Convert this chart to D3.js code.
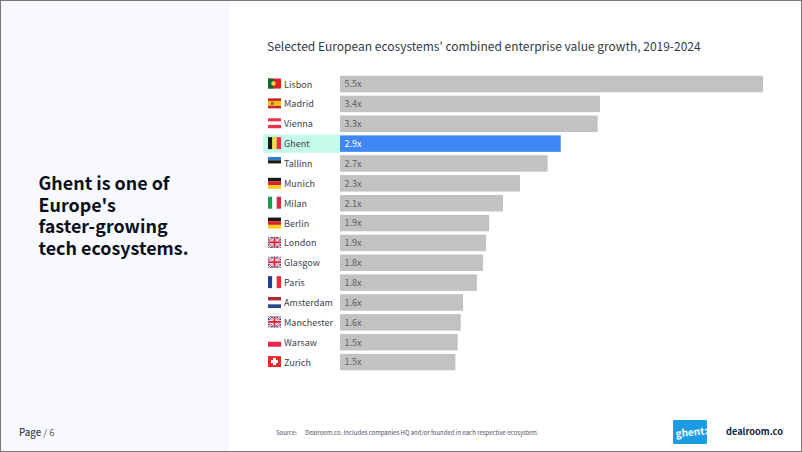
<!DOCTYPE html>
<html><head><meta charset="utf-8">
<script src="https://cdn.jsdelivr.net/npm/d3@7/dist/d3.min.js"></script>
<style>html,body{margin:0;padding:0;background:#fff}svg{display:block}text{font-family:"Noto Sans CJK JP","Noto Sans",sans-serif}</style>
</head><body><svg id="c" width="802" height="452"></svg>
<script>
const cities=["Lisbon","Madrid","Vienna","Ghent","Tallinn","Munich","Milan","Berlin","London","Glasgow","Paris","Amsterdam","Manchester","Warsaw","Zurich"];
const values=[5.5,3.38,3.35,2.87,2.7,2.34,2.12,1.94,1.9,1.86,1.78,1.6,1.57,1.53,1.5];
const labels=["5.5x","3.4x","3.3x","2.9x","2.7x","2.3x","2.1x","1.9x","1.9x","1.8x","1.8x","1.6x","1.6x","1.5x","1.5x"];
const flagKinds=["pt","es","at","be","ee","de","it","de","uk","uk","fr","nl","uk","pl","ch"];
const headline=["Ghent is one of","Europe's","faster-growing","tech ecosystems."];
const title="Selected European ecosystems' combined enterprise value growth, 2019-2024";
const source="Dealroom.co. Includes companies HQ and/or founded in each respective ecosystem.";

const svg=d3.select("#c");
svg.append("rect").attr("width",802).attr("height",452).attr("fill","#fff");
svg.append("rect").attr("width",229).attr("height",452).attr("fill","#f8f9fe");

const x=d3.scaleLinear().domain([0,5.5]).range([340,763]);
const y=d3.scaleBand().domain(cities).range([73.8,372.3]).paddingInner(0.17).paddingOuter(0.1);

svg.append("text").attr("x",267).attr("y",51).attr("font-size",12).attr("fill","#333a45").text(title);

svg.append("rect").attr("x",263).attr("y",y("Ghent")-1).attr("width",77).attr("height",y.bandwidth()+2).attr("fill","#c5fce9");

svg.selectAll("rect.bar").data(cities).join("rect").attr("class","bar")
 .attr("x",x(0)).attr("y",d=>y(d)).attr("height",y.bandwidth())
 .attr("width",(d,i)=>x(values[i])-x(0))
 .attr("fill",d=>d==="Ghent"?"#3f87f5":"#c2c2c2");

svg.selectAll("text.val").data(cities).join("text").attr("class","val")
 .attr("x",x(0)+4.5).attr("y",d=>y(d)+y.bandwidth()/2+3.4).attr("font-size",9)
 .attr("fill",d=>d==="Ghent"?"#fff":"#5f5f5f").text((d,i)=>labels[i]);

svg.selectAll("text.city").data(cities).join("text").attr("class","city")
 .attr("x",284).attr("y",d=>y(d)+y.bandwidth()/2+3.5).attr("font-size",9).attr("letter-spacing",0.05)
 .attr("fill","#3a3f4a").text(d=>d);

const FW=13,FH=12;
function stripesH(g,cols,h=FH,top=0){const s=d3.scaleBand().domain(d3.range(cols.length)).range([top,top+h]);
 g.selectAll(null).data(cols).join("rect").attr("width",FW).attr("y",(d,i)=>s(i)).attr("height",s.bandwidth()).attr("fill",d=>d);}
function stripesV(g,cols){const s=d3.scaleBand().domain(d3.range(cols.length)).range([0,FW]);
 g.selectAll(null).data(cols).join("rect").attr("height",FH).attr("x",(d,i)=>s(i)).attr("width",s.bandwidth()).attr("fill",d=>d);}
const draw={
 pt(g){g.append("rect").attr("width",FW).attr("height",FH-2).attr("y",1).attr("fill","#e0202a");g.append("rect").attr("width",5.5).attr("height",FH-2).attr("y",1).attr("fill","#0d6b36");g.append("circle").attr("cx",5.5).attr("cy",6).attr("r",2.2).attr("fill","#f3d23a");},
 es(g){g.append("rect").attr("width",FW).attr("height",FH-2).attr("y",1).attr("fill","#c8202c");g.append("rect").attr("width",FW).attr("height",5).attr("y",3.5).attr("fill","#f6bd1f");g.append("rect").attr("x",3).attr("y",4.5).attr("width",2.5).attr("height",3).attr("fill","#b5512a");},
 at(g){stripesH(g,["#e8354a","#fff","#e8354a"],10,1);},
 be(g){stripesV(g,["#1a1a1a","#f9dc3e","#ea3045"]);},
 ee(g){stripesH(g,["#2d7fc9","#1a1a1a","#fff"],10,0);},
 de(g){stripesH(g,["#1a1a1a","#dd1f26","#fbcd1d"],11,1);},
 it(g){stripesV(g,["#1f9a50","#fff","#d12c44"]);},
 fr(g){stripesV(g,["#22408f","#fff","#ec2d3c"]);},
 nl(g){stripesH(g,["#b12a3a","#fff","#2b4a8b"],11,1);},
 pl(g){stripesH(g,["#fff","#e8264a"],10,1);},
 ch(g){g.append("rect").attr("width",FW).attr("height",FH-1).attr("y",0.5).attr("fill","#e22c2c");g.append("rect").attr("x",5).attr("y",2.5).attr("width",3).attr("height",7).attr("fill","#fff");g.append("rect").attr("x",3).attr("y",4.5).attr("width",7).attr("height",3).attr("fill","#fff");},
 uk(g){g.append("rect").attr("width",FW).attr("height",FH-1).attr("y",0.5).attr("fill","#2b3f86");
  const l=(a,b,c,e,col,w)=>g.append("line").attr("x1",a).attr("y1",b).attr("x2",c).attr("y2",e).attr("stroke",col).attr("stroke-width",w);
  l(0,0.5,FW,11.5,"#fff",2.4);l(0,11.5,FW,0.5,"#fff",2.4);l(0,0.5,FW,11.5,"#d8263c",0.9);l(0,11.5,FW,0.5,"#d8263c",0.9);
  l(FW/2,0.5,FW/2,11.5,"#fff",3.6);l(0,6,FW,6,"#fff",3.6);l(FW/2,0.5,FW/2,11.5,"#d8263c",2);l(0,6,FW,6,"#d8263c",2);}
};
cities.forEach((c,i)=>{const g=svg.append("g").attr("transform",`translate(268,${y(c)+y.bandwidth()/2-6.5})`);draw[flagKinds[i]](g);});

svg.selectAll("text.head").data(headline).join("text").attr("class","head").attr("font-size",17.9).attr("font-weight",700).attr("fill","#0b0f19")
 .attr("x",38.5).attr("y",(d,i)=>190+i*21.6).text(d=>d);

const p=svg.append("text").attr("x",19).attr("y",436).attr("font-size",9.6).attr("fill","#3a3f4a");
p.append("tspan").attr("font-weight",500).text("Page");p.append("tspan").attr("fill","#666").text(" / 6");

svg.append("text").attr("x",276).attr("y",435).attr("font-size",6).attr("fill","#4a4f5a").text("Source:");
svg.append("text").attr("x",305).attr("y",435).attr("font-size",6).attr("fill","#4a4f5a").text(source);

svg.append("rect").attr("x",673).attr("y",420).attr("width",34).attr("height",24).attr("fill","#1b9ce2").attr("rx",1);
svg.append("text").attr("x",675.5).attr("y",436).attr("font-size",10).attr("font-weight",700).attr("fill","#fff").attr("transform","rotate(-6 690 432)").text("ghent:");
svg.append("text").attr("x",726).attr("y",435).attr("font-size",9.2).attr("font-weight",700).attr("fill","#14213a").text("dealroom.co");

svg.append("rect").attr("x",0.5).attr("y",0.5).attr("width",801).attr("height",451).attr("fill","none").attr("stroke","#777").attr("stroke-width",1);
</script></body></html>
